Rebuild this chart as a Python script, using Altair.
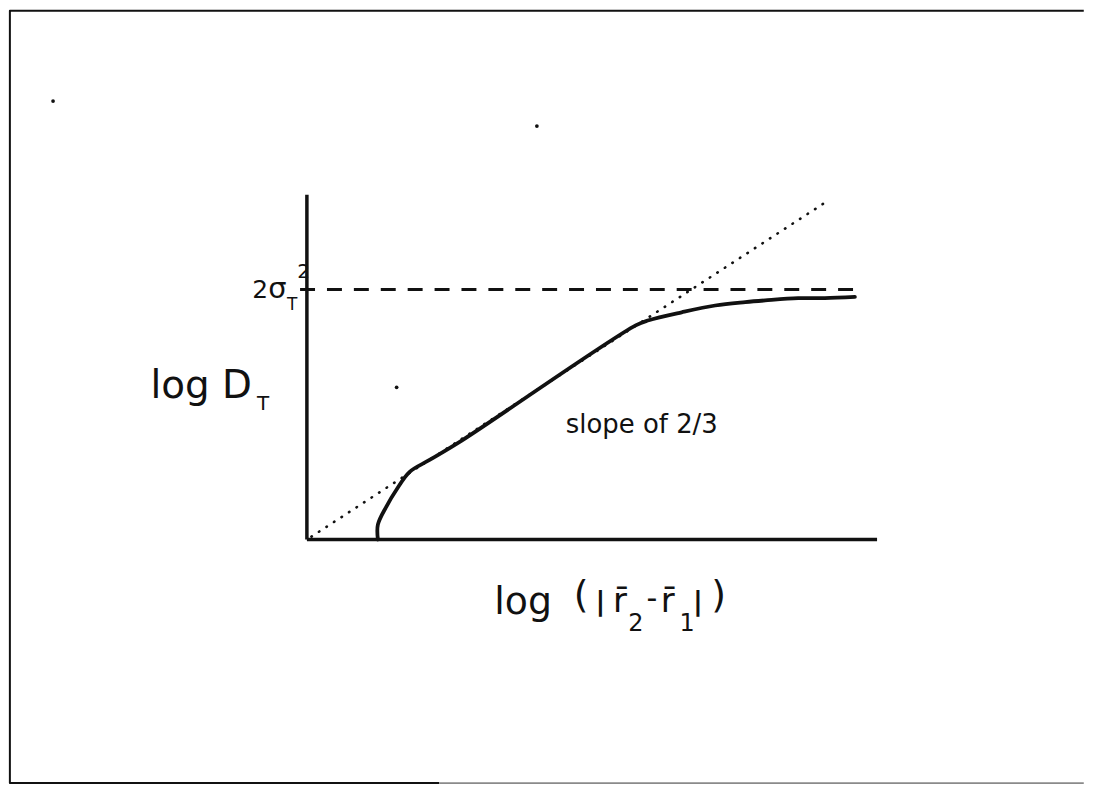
import altair as alt
import pandas as pd

# ---- data (abstract units: log r on x, log D_T on y; axes corner at 0,0) ----
curve_x = [1.25, 1.25, 1.40, 1.58, 1.81, 2.16, 2.74, 5.79, 6.02, 6.60, 7.19, 7.72, 8.07, 8.65, 9.12, 9.65]
curve_y = [0.00, 0.26, 0.58, 0.88, 1.19, 1.40, 1.75, 3.77, 3.86, 4.00, 4.12, 4.18, 4.21, 4.25, 4.25, 4.27]

slope_x = [0.08, 9.09]          # dotted 2/3-slope asymptote
slope_y = [0.05, 5.91]

sat_x = [-0.12, 9.65]           # dashed saturation level 2 sigma_T^2
sat_y = [4.40, 4.40]

xaxis_x = [0.0, 10.04]
xaxis_y = [0.0, 0.0]
yaxis_x = [0.0, 0.0]
yaxis_y = [0.0, 6.07]

frame_x = [13.68, -5.23, -5.23, 2.33]
frame_y = [9.31, 9.31, -4.29, -4.29]
frame_light_x = [2.33, 13.68]
frame_light_y = [-4.29, -4.29]

speck_x = [-4.47, 4.05, 1.58]
speck_y = [7.72, 7.28, 2.68]

label_text = ["log D", "T", "2", "σ", "T", "2", "slope of 2/3",
              "log", "(", "r\u0304", "2", "-", "r\u0304", "1", ")"]
label_x = [-2.754, -0.877, -0.96, -0.68, -0.351, -0.17, 4.56,
           3.30, 4.70, 5.39, 5.66, 5.98, 6.23, 6.56, 7.12]
label_y = [2.49, 2.28, 4.26, 4.26, 4.04, 4.60, 1.88,
           -1.316, -1.21, -1.28, -1.61, -1.21, -1.28, -1.61, -1.21]
label_size = [39, 20, 25, 29, 17, 20, 26,
              38, 38, 34, 24, 30, 34, 24, 38]

bar_text = ["|", "|"]
bar_x = [5.08, 6.80]
bar_y = [-1.24, -1.24]
bar_size = [27, 27]

# ---- scales ----
W, H = 1079, 778
xs = alt.Scale(domain=[-5.2456, 13.6842], nice=False, zero=False)
ys = alt.Scale(domain=[9.3333 - H / 57.0, 9.3333], nice=False, zero=False)
X = lambda: alt.X("x:Q", scale=xs, axis=None)
Y = lambda: alt.Y("y:Q", scale=ys, axis=None)

def df(xv, yv, **extra):
    d = pd.DataFrame({"x": xv, "y": yv})
    d["o"] = range(len(d))
    for k, v in extra.items():
        d[k] = v
    return d

black = "#111111"

curve = alt.Chart(df(curve_x, curve_y)).mark_line(
    color=black, strokeWidth=3.8, interpolate="catmull-rom", strokeCap="round", strokeJoin="round"
).encode(x=X(), y=Y(), order="o:Q")

slope = alt.Chart(df(slope_x, slope_y)).mark_line(
    color=black, strokeWidth=2.6, strokeDash=[0.5, 8.5], strokeCap="round"
).encode(x=X(), y=Y(), order="o:Q")

sat = alt.Chart(df(sat_x, sat_y)).mark_line(
    color=black, strokeWidth=3, strokeDash=[15, 12]
).encode(x=X(), y=Y(), order="o:Q")

xaxis = alt.Chart(df(xaxis_x, xaxis_y)).mark_line(
    color=black, strokeWidth=3.5
).encode(x=X(), y=Y(), order="o:Q")

yaxis = alt.Chart(df(yaxis_x, yaxis_y)).mark_line(
    color=black, strokeWidth=3.5
).encode(x=X(), y=Y(), order="o:Q")

frame = alt.Chart(df(frame_x, frame_y)).mark_line(
    color=black, strokeWidth=2, strokeJoin="round"
).encode(x=X(), y=Y(), order="o:Q")

frame_light = alt.Chart(df(frame_light_x, frame_light_y)).mark_line(
    color="#8a8a8a", strokeWidth=1.6
).encode(x=X(), y=Y(), order="o:Q")

specks = alt.Chart(df(speck_x, speck_y)).mark_point(
    filled=True, color=black, size=14, opacity=1
).encode(x=X(), y=Y())

labels = alt.Chart(pd.DataFrame({"x": label_x, "y": label_y, "t": label_text, "s": label_size})).mark_text(
    align="left", baseline="alphabetic", font="DejaVu Sans", color=black
).encode(x=X(), y=Y(), text="t:N", size=alt.Size("s:Q", scale=None, legend=None))

bars = alt.Chart(pd.DataFrame({"x": bar_x, "y": bar_y, "t": bar_text, "s": bar_size})).mark_text(
    align="left", baseline="alphabetic", font="DejaVu Sans", fontWeight="bold", color=black
).encode(x=X(), y=Y(), text="t:N", size=alt.Size("s:Q", scale=None, legend=None))

chart = alt.layer(
    frame, frame_light, sat, slope, xaxis, yaxis, curve, specks, labels, bars
).properties(
    width=W, height=H, padding=0
).configure_view(stroke=None)

chart.save("out.html", embed_options={"renderer": "svg", "actions": False})
